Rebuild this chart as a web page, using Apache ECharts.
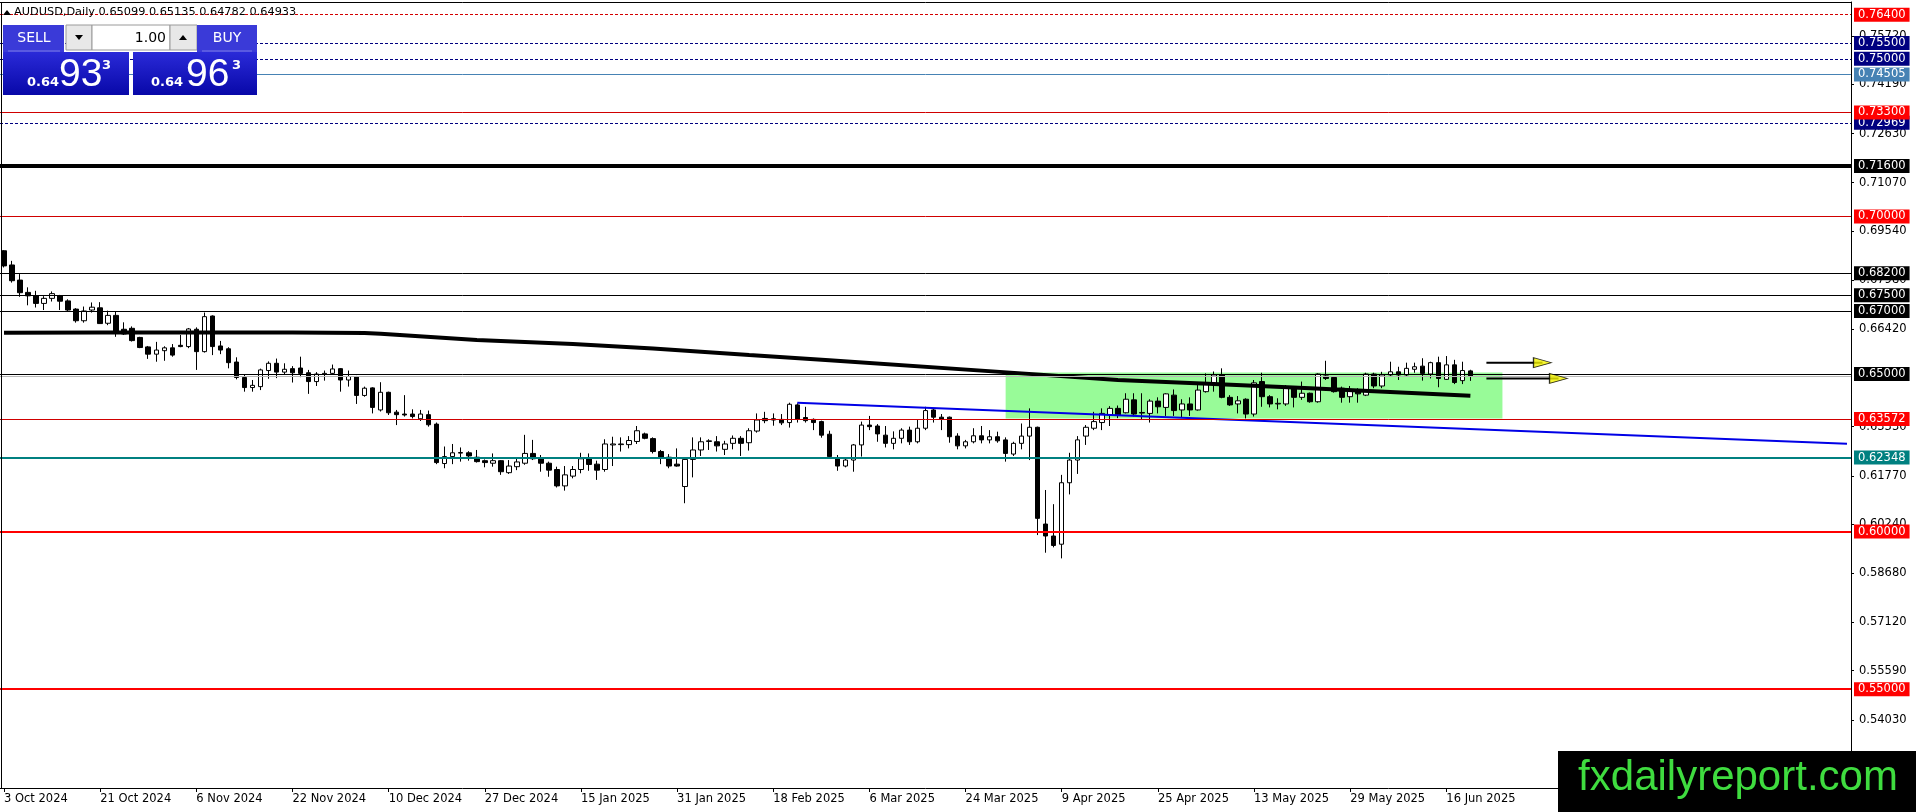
<!DOCTYPE html>
<html><head><meta charset="utf-8">
<script src="https://cdn.jsdelivr.net/npm/echarts@6/dist/echarts.min.js"></script>
<style>html,body{margin:0;padding:0;background:#fff;overflow:hidden}#c{width:1916px;height:812px}</style>
</head><body><div id="c"></div>
<script>
// ---- data ----
const tickLabels = ['3 Oct 2024','21 Oct 2024','6 Nov 2024','22 Nov 2024','10 Dec 2024','27 Dec 2024','15 Jan 2025','31 Jan 2025','18 Feb 2025','6 Mar 2025','24 Mar 2025','9 Apr 2025','25 Apr 2025','13 May 2025','29 May 2025','16 Jun 2025'];
const barsPerLabel = 12;
const futureBars = 47;
// [open, high, low, close]
const ohlc = [
[0.6891,0.6893,0.6838,0.6843],[0.6846,0.6859,0.6790,0.6796],[0.6798,0.6817,0.6745,0.6758],[0.6759,0.6775,0.6718,0.6748],
[0.6748,0.6764,0.6711,0.6724],[0.6724,0.6747,0.6703,0.6740],[0.6740,0.6762,0.6730,0.6755],[0.6748,0.6751,0.6703,0.6731],
[0.6732,0.6737,0.6700,0.6703],[0.6706,0.6709,0.6663,0.6669],[0.6669,0.6714,0.6663,0.6700],[0.6703,0.6727,0.6695,0.6712],
[0.6710,0.6728,0.6659,0.6660],[0.6661,0.6701,0.6655,0.6686],[0.6686,0.6699,0.6618,0.6633],[0.6642,0.6664,0.6624,0.6627],
[0.6645,0.6651,0.6603,0.6606],[0.6616,0.6618,0.6582,0.6584],[0.6586,0.6589,0.6548,0.6563],[0.6563,0.6602,0.6539,0.6576],
[0.6574,0.6588,0.6542,0.6583],[0.6583,0.6595,0.6555,0.6560],[0.6591,0.6624,0.6585,0.6587],[0.6587,0.6646,0.6582,0.6643],
[0.6642,0.6648,0.6513,0.6571],[0.6571,0.6695,0.6568,0.6682],[0.6684,0.6686,0.6560,0.6587],[0.6589,0.6605,0.6563,0.6576],
[0.6580,0.6585,0.6518,0.6536],[0.6538,0.6553,0.6483,0.6489],[0.6489,0.6497,0.6444,0.6457],[0.6457,0.6481,0.6444,0.6464],
[0.6460,0.6517,0.6449,0.6513],[0.6511,0.6540,0.6485,0.6534],[0.6534,0.6549,0.6487,0.6506],[0.6506,0.6534,0.6500,0.6515],
[0.6517,0.6525,0.6473,0.6504],[0.6519,0.6555,0.6490,0.6502],[0.6504,0.6513,0.6437,0.6476],[0.6476,0.6506,0.6462,0.6500],
[0.6499,0.6511,0.6479,0.6502],[0.6502,0.6530,0.6498,0.6516],[0.6517,0.6519,0.6444,0.6481],[0.6481,0.6511,0.6460,0.6492],
[0.6492,0.6494,0.6405,0.6432],[0.6432,0.6460,0.6428,0.6455],[0.6456,0.6458,0.6375,0.6394],[0.6386,0.6474,0.6381,0.6442],
[0.6442,0.6444,0.6370,0.6377],[0.6379,0.6386,0.6338,0.6371],[0.6373,0.6433,0.6365,0.6370],[0.6373,0.6388,0.6359,0.6365],
[0.6358,0.6386,0.6351,0.6373],[0.6371,0.6384,0.6333,0.6339],[0.6341,0.6346,0.6214,0.6219],[0.6216,0.6270,0.6201,0.6238],
[0.6238,0.6278,0.6214,0.6250],[0.6249,0.6267,0.6222,0.6251],[0.6250,0.6255,0.6225,0.6240],[0.6236,0.6259,0.6219,0.6222],
[0.6225,0.6229,0.6204,0.6219],[0.6217,0.6248,0.6206,0.6225],[0.6225,0.6227,0.6180,0.6190],[0.6187,0.6227,0.6183,0.6208],
[0.6206,0.6232,0.6195,0.6221],[0.6217,0.6307,0.6212,0.6248],[0.6248,0.6291,0.6227,0.6231],[0.6235,0.6243,0.6190,0.6217],
[0.6217,0.6222,0.6174,0.6195],[0.6197,0.6206,0.6140,0.6145],[0.6145,0.6208,0.6130,0.6180],[0.6176,0.6208,0.6169,0.6197],
[0.6197,0.6250,0.6185,0.6231],[0.6231,0.6248,0.6193,0.6213],[0.6214,0.6225,0.6164,0.6195],[0.6197,0.6293,0.6190,0.6278],
[0.6275,0.6301,0.6208,0.6278],[0.6276,0.6299,0.6254,0.6278],[0.6276,0.6303,0.6264,0.6289],[0.6286,0.6335,0.6278,0.6320],
[0.6310,0.6314,0.6293,0.6296],[0.6295,0.6299,0.6248,0.6254],[0.6254,0.6259,0.6214,0.6236],[0.6236,0.6246,0.6201,0.6208],
[0.6214,0.6264,0.6206,0.6208],[0.6143,0.6232,0.6090,0.6229],[0.6229,0.6299,0.6172,0.6259],[0.6259,0.6299,0.6240,0.6285],
[0.6286,0.6293,0.6259,0.6288],[0.6285,0.6303,0.6254,0.6272],[0.6261,0.6288,0.6243,0.6278],[0.6280,0.6305,0.6261,0.6296],
[0.6296,0.6303,0.6240,0.6280],[0.6282,0.6328,0.6257,0.6320],[0.6319,0.6375,0.6314,0.6354],[0.6359,0.6380,0.6344,0.6352],
[0.6358,0.6375,0.6336,0.6354],[0.6356,0.6373,0.6338,0.6345],[0.6346,0.6409,0.6330,0.6404],[0.6402,0.6407,0.6346,0.6356],
[0.6362,0.6396,0.6346,0.6352],[0.6356,0.6359,0.6322,0.6346],[0.6349,0.6352,0.6298,0.6306],[0.6309,0.6320,0.6232,0.6238],
[0.6235,0.6243,0.6193,0.6208],[0.6208,0.6236,0.6204,0.6227],[0.6227,0.6278,0.6190,0.6275],[0.6275,0.6349,0.6238,0.6338],
[0.6338,0.6367,0.6322,0.6333],[0.6335,0.6341,0.6285,0.6310],[0.6306,0.6335,0.6267,0.6280],[0.6280,0.6318,0.6261,0.6296],
[0.6296,0.6328,0.6280,0.6322],[0.6322,0.6333,0.6275,0.6285],[0.6285,0.6354,0.6280,0.6328],[0.6328,0.6396,0.6322,0.6384],
[0.6386,0.6391,0.6346,0.6363],[0.6363,0.6373,0.6322,0.6356],[0.6363,0.6365,0.6282,0.6301],[0.6303,0.6312,0.6261,0.6272],
[0.6272,0.6291,0.6264,0.6285],[0.6285,0.6328,0.6280,0.6304],[0.6304,0.6335,0.6280,0.6291],[0.6291,0.6322,0.6280,0.6301],
[0.6301,0.6317,0.6282,0.6288],[0.6291,0.6299,0.6222,0.6248],[0.6246,0.6285,0.6240,0.6280],[0.6280,0.6343,0.6261,0.6303],
[0.6303,0.6391,0.6227,0.6331],[0.6331,0.6333,0.5989,0.6042],[0.6024,0.6132,0.5933,0.5986],[0.5986,0.6087,0.5950,0.5956],
[0.5960,0.6180,0.5915,0.6155],[0.6155,0.6250,0.6118,0.6227],[0.6227,0.6303,0.6183,0.6291],[0.6303,0.6338,0.6275,0.6331],
[0.6328,0.6380,0.6322,0.6349],[0.6346,0.6391,0.6322,0.6375],[0.6370,0.6398,0.6335,0.6391],[0.6391,0.6400,0.6360,0.6370],
[0.6377,0.6439,0.6375,0.6420],[0.6418,0.6439,0.6365,0.6373],[0.6378,0.6439,0.6354,0.6376],[0.6375,0.6420,0.6346,0.6414],
[0.6414,0.6426,0.6375,0.6396],[0.6394,0.6439,0.6367,0.6437],[0.6433,0.6451,0.6367,0.6384],[0.6386,0.6420,0.6363,0.6405],
[0.6405,0.6426,0.6367,0.6386],[0.6386,0.6465,0.6384,0.6449],[0.6444,0.6502,0.6441,0.6470],[0.6470,0.6508,0.6444,0.6497],
[0.6497,0.6518,0.6423,0.6426],[0.6426,0.6433,0.6399,0.6402],[0.6405,0.6430,0.6375,0.6415],[0.6420,0.6423,0.6359,0.6373],
[0.6373,0.6481,0.6365,0.6472],[0.6476,0.6504,0.6396,0.6428],[0.6428,0.6433,0.6394,0.6405],[0.6405,0.6423,0.6388,0.6407],
[0.6405,0.6465,0.6399,0.6455],[0.6455,0.6460,0.6394,0.6426],[0.6426,0.6476,0.6418,0.6439],[0.6439,0.6441,0.6409,0.6412],
[0.6412,0.6502,0.6409,0.6500],[0.6494,0.6542,0.6481,0.6486],[0.6489,0.6491,0.6441,0.6444],[0.6455,0.6460,0.6409,0.6426],
[0.6428,0.6462,0.6409,0.6447],[0.6449,0.6455,0.6409,0.6437],[0.6433,0.6504,0.6430,0.6500],[0.6500,0.6504,0.6455,0.6462],
[0.6462,0.6507,0.6455,0.6497],[0.6497,0.6539,0.6492,0.6507],[0.6507,0.6523,0.6481,0.6497],[0.6497,0.6536,0.6492,0.6518],
[0.6515,0.6536,0.6504,0.6523],[0.6525,0.6550,0.6479,0.6502],[0.6500,0.6539,0.6486,0.6536],[0.6536,0.6555,0.6458,0.6486],
[0.6483,0.6557,0.6481,0.6529],[0.6529,0.6545,0.6468,0.6473],[0.6479,0.6539,0.6468,0.6511],[0.65099,0.65135,0.64782,0.64933]
];
// moving average: [barIndex, value]
const maPoints = [[0,0.6631],[12,0.6632],[24,0.6632],[36,0.6632],[45,0.6630],[47,0.6628],[59,0.6608],[71,0.6595],[81,0.6581],[93,0.6560],[103,0.6544],[127,0.6502],[139,0.6481],[151,0.6468],[163,0.6455],[183,0.6431]];
const trendLine = [[99,0.6409],[230,0.6279]];
const zoneBox = [[125,0.6505],[187,0.6359]];
// [startBar, endBar, price]
const arrowLines = [[185,192,0.6536],[185,194,0.6486]];
const levelValues = [0.764,0.755,0.75,0.74505,0.72969,0.733,0.716,0.70,0.682,0.675,0.67,0.65,0.63572,0.62348,0.60,0.55];
const levelKinds  = ['redDash','navyDash','navyDash','steel','navyDash','redThin','blackThick','redThin','black','black','black','black','redThin','teal','redBold','redBold'];
const bidPrice = 0.64933;
const yTickValues = [0.7572,0.7419,0.7263,0.7107,0.6954,0.6798,0.6642,0.6333,0.6177,0.6024,0.5868,0.5712,0.5559,0.5403];
const yMin = 0.51865, yMax = 0.76803;
const titleText = 'AUDUSD,Daily 0.65099 0.65135 0.64782 0.64933';
const sellPrice = ['0.64','93','3'], buyPrice = ['0.64','96','3'], lotSize = '1.00';

// ---- styles ----
const kindStyle = {
  redDash:   {line:{color:'#d40000',width:1,type:[3,2]}, box:'#ff0000'},
  navyDash:  {line:{color:'#000080',width:1,type:[3,2]}, box:'#000080'},
  steel:     {line:{color:'#4682b4',width:1,type:'solid'}, box:'#4682b4'},
  redThin:   {line:{color:'#d00000',width:1,type:'solid'}, box:'#ff0000'},
  blackThick:{line:{color:'#000000',width:4,type:'solid'}, box:'#000000'},
  black:     {line:{color:'#000000',width:1,type:'solid'}, box:'#000000'},
  teal:      {line:{color:'#008080',width:2,type:'solid'}, box:'#008080'},
  redBold:   {line:{color:'#ff0000',width:2,type:'solid'}, box:'#ff0000'}
};
const FONT = 'DejaVu Sans';

const cats = Array.from({length: ohlc.length + futureBars}, (_, i) => i);
const showIdx = i => i % barsPerLabel === 0 && (i / barsPerLabel) < tickLabels.length;

const levelData = levelValues.map((v, i) => {
  const s = kindStyle[levelKinds[i]];
  return {
    yAxis: v,
    lineStyle: Object.assign({}, s.line),
    label: {show:true, position:'end', distance:3, formatter: v.toFixed(5), color:'#fff',
      backgroundColor: s.box, padding:[2,4,1,4], fontFamily:FONT, fontSize:11.5, lineHeight:11}
  };
});
levelData.splice(11, 0, {yAxis: bidPrice, lineStyle:{color:'#b8b8b8', width:1, type:'solid'}, label:{show:false}});

const chart = echarts.init(document.getElementById('c'), null, {renderer:'canvas'});
chart.setOption({
  animation:false,
  backgroundColor:'#ffffff',
  textStyle:{fontFamily:FONT},
  grid:{left:0, right:65, top:2, bottom:24, show:false},
  xAxis:{
    type:'category', data:cats, boundaryGap:true,
    axisLine:{show:true, lineStyle:{color:'#000', width:1}},
    axisTick:{show:true, interval: showIdx, alignWithLabel:true, length:4, lineStyle:{color:'#000'}},
    axisLabel:{show:true, interval: showIdx, align:'left', margin:5, color:'#000', fontFamily:FONT, fontSize:11.5,
      formatter:(v, idx) => tickLabels[idx / barsPerLabel] || ''},
    splitLine:{show:false}
  },
  yAxis:{
    type:'value', position:'right', min:yMin, max:yMax, scale:true,
    axisLine:{show:true, lineStyle:{color:'#000', width:1}},
    axisTick:{show:true, customValues:yTickValues, length:3, lineStyle:{color:'#000'}},
    axisLabel:{show:true, customValues:yTickValues, margin:8, color:'#000', fontFamily:FONT, fontSize:11.5,
      formatter:v => Number(v).toFixed(5)},
    splitLine:{show:false}
  },
  series:[
    {name:'zone', type:'line', z:1, data:zoneBox, symbol:'none', lineStyle:{opacity:0}, silent:true,
      markArea:{silent:true, precision:6, itemStyle:{color:'#98fb98', opacity:1},
        data:[[{xAxis:zoneBox[0][0], yAxis:zoneBox[0][1]},{xAxis:zoneBox[1][0], yAxis:zoneBox[1][1]}]]}},
    {name:'levels', type:'line', z:2, data:[[0, levelValues[0]]], symbol:'none', lineStyle:{opacity:0}, silent:true, clip:false,
      markLine:{silent:true, precision:6, symbol:['none','none'], animation:false, data:levelData}},
    {name:'AUDUSD', type:'candlestick', z:3, barWidth:5,
      data: ohlc.map(d => [d[0], d[3], d[2], d[1]]),
      itemStyle:{color:'#ffffff', color0:'#000000', borderColor:'#000000', borderColor0:'#000000', borderWidth:1}},
    {name:'MA', type:'line', z:4, data:maPoints, symbol:'none', lineStyle:{color:'#000', width:4}, silent:true},
    {name:'trend', type:'line', z:4, data:trendLine, symbol:'none', lineStyle:{color:'#0000e6', width:2}, silent:true},
    ...arrowLines.map(a => ({type:'line', z:5, data:[[a[0],a[2]],[a[1],a[2]]], symbol:'none', lineStyle:{color:'#000', width:2}, silent:true})),
    {name:'heads', type:'scatter', z:6, data:arrowLines.map(a => [a[1], a[2]]), symbol:'triangle', symbolRotate:-90, symbolSize:[10,18],
      itemStyle:{color:'#f2f200', borderColor:'#000', borderWidth:1}, silent:true}
  ],
  graphic:[
    // chart frame (left and top edges)
    {type:'line', shape:{x1:1.5,y1:2,x2:1.5,y2:788}, style:{stroke:'#000', lineWidth:1}, z:50},
    {type:'line', shape:{x1:0,y1:2.5,x2:1851,y2:2.5}, style:{stroke:'#000', lineWidth:1}, z:50},
    {type:'polygon', shape:{points:[[3,15],[11,15],[7,10]]}, style:{fill:'#000'}, z:100},
    {type:'text', x:14, y:12, style:{text:titleText, fill:'#000', font:'11.3px "DejaVu Sans"', verticalAlign:'middle'}, z:100},
    // one-click trading panel
    {type:'rect', shape:{x:3,y:25,width:61,height:27}, style:{fill:'#3a3ad8'}, z:100},
    {type:'line', shape:{x1:8,y1:51,x2:60,y2:51}, style:{stroke:'#7a7aea', lineWidth:1}, z:101},
    {type:'text', x:34, y:38, style:{text:'SELL', fill:'#fff', font:'14px "DejaVu Sans"', align:'center', verticalAlign:'middle'}, z:101},
    {type:'rect', shape:{x:66,y:25,width:26,height:25}, style:{fill:'#e8e8e8', stroke:'#9a9a9a', lineWidth:1}, z:100},
    {type:'polygon', shape:{points:[[75,35],[83,35],[79,40]]}, style:{fill:'#000'}, z:101},
    {type:'rect', shape:{x:92,y:25,width:78,height:25}, style:{fill:'#fff', stroke:'#9a9a9a', lineWidth:1}, z:100},
    {type:'text', x:166, y:38, style:{text:lotSize, fill:'#000', font:'14px "DejaVu Sans"', align:'right', verticalAlign:'middle'}, z:101},
    {type:'rect', shape:{x:170,y:25,width:27,height:25}, style:{fill:'#e8e8e8', stroke:'#9a9a9a', lineWidth:1}, z:100},
    {type:'polygon', shape:{points:[[179,40],[187,40],[183,35]]}, style:{fill:'#000'}, z:101},
    {type:'rect', shape:{x:197,y:25,width:60,height:27}, style:{fill:'#3a3ad8'}, z:100},
    {type:'line', shape:{x1:202,y1:51,x2:252,y2:51}, style:{stroke:'#7a7aea', lineWidth:1}, z:101},
    {type:'text', x:227, y:38, style:{text:'BUY', fill:'#fff', font:'14px "DejaVu Sans"', align:'center', verticalAlign:'middle'}, z:101},
    {type:'rect', shape:{x:3,y:52,width:126,height:43}, style:{fill:new echarts.graphic.LinearGradient(0,0,0,1,[{offset:0,color:'#2a2ad8'},{offset:1,color:'#0808a8'}])}, z:100},
    {type:'rect', shape:{x:133,y:52,width:124,height:43}, style:{fill:new echarts.graphic.LinearGradient(0,0,0,1,[{offset:0,color:'#2a2ad8'},{offset:1,color:'#0808a8'}])}, z:100},
    {type:'text', x:27, y:83, style:{text:sellPrice[0], fill:'#fff', font:'bold 13px "DejaVu Sans"', verticalAlign:'middle'}, z:101},
    {type:'text', x:59, y:75, style:{text:sellPrice[1], fill:'#fff', font:'39px "Liberation Sans"', verticalAlign:'middle'}, z:101},
    {type:'text', x:102, y:66, style:{text:sellPrice[2], fill:'#fff', font:'bold 13px "DejaVu Sans"', verticalAlign:'middle'}, z:101},
    {type:'text', x:151, y:83, style:{text:buyPrice[0], fill:'#fff', font:'bold 13px "DejaVu Sans"', verticalAlign:'middle'}, z:101},
    {type:'text', x:186, y:75, style:{text:buyPrice[1], fill:'#fff', font:'39px "Liberation Sans"', verticalAlign:'middle'}, z:101},
    {type:'text', x:232, y:66, style:{text:buyPrice[2], fill:'#fff', font:'bold 13px "DejaVu Sans"', verticalAlign:'middle'}, z:101},
    // watermark
    {type:'rect', shape:{x:1558,y:751,width:358,height:61}, style:{fill:'#000'}, z:200},
    {type:'text', x:1738, y:778, style:{text:'fxdailyreport.com', fill:'#3fdc3f', font:'42px "Liberation Sans"', align:'center', verticalAlign:'middle'}, z:201}
  ]
});
</script></body></html>
